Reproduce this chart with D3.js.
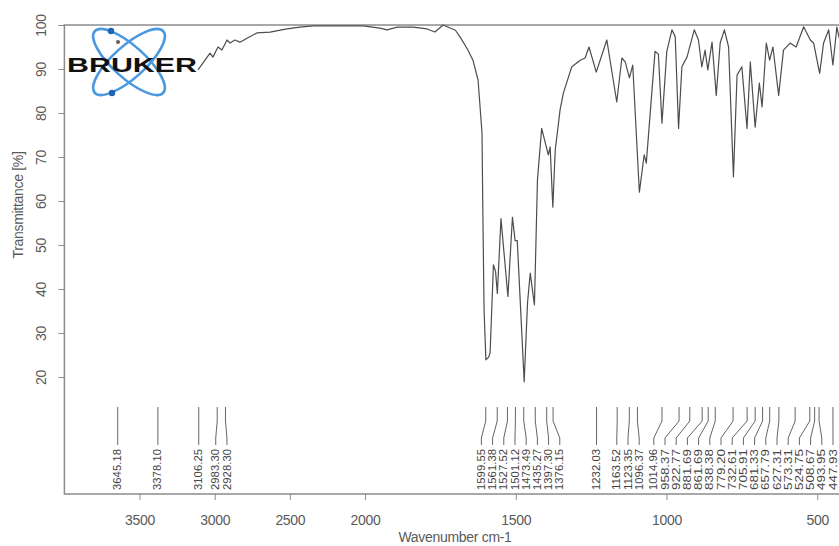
<!DOCTYPE html>
<html>
<head>
<meta charset="utf-8">
<script src="https://cdn.jsdelivr.net/npm/d3@7"></script>
<style>
  html, body { margin: 0; padding: 0; background: #fff; }
  svg { display: block; }
  text { font-family: "Liberation Sans", Arial, sans-serif; }
</style>
</head>
<body>
<svg id="chart" width="839" height="546"></svg>
<script>
// ---- data ----
const wavenumbers = [3111, 3031, 3012, 2978, 2952, 2918, 2898, 2865, 2832, 2785, 2719, 2632, 2519, 2433, 2346,
  2014, 1950, 1927, 1893, 1840, 1794, 1768, 1741, 1700, 1685, 1660, 1642, 1625, 1612, 1608, 1605, 1599, 1590, 1585,
  1574, 1567, 1561, 1549, 1526, 1511, 1502, 1495, 1472, 1461, 1452, 1438, 1428, 1414, 1392, 1386, 1377, 1369, 1353,
  1342, 1325, 1314, 1286, 1270, 1257, 1233, 1198, 1165, 1148, 1137, 1123, 1112, 1090, 1074, 1067, 1038, 1027, 1015,
  999, 982, 971, 960, 949, 932, 908, 894, 883, 872, 863, 849, 835, 822, 808, 794, 778, 766, 750, 733, 722, 706, 692,
  683, 669, 658, 647, 628, 612, 590, 570, 545, 523, 512, 492, 479, 462, 448, 435, 427];
const transmittance = [89.8, 93.6, 92.7, 95.0, 94.3, 96.6, 95.9, 96.6, 96.1, 97.0, 98.2, 98.4, 99.1, 99.5, 99.8,
  99.8, 99.3, 98.9, 99.5, 99.5, 99.1, 98.4, 100, 98.8, 97.3, 94.5, 92.0, 87.5, 75.5, 51, 35, 23.9, 24.5, 25.5,
  45.5, 44, 39, 56, 38.3, 56.3, 51, 51, 18.9, 36.8, 43.6, 36.4, 64.8, 76.5, 70.5, 72.3, 58.6, 71.6, 80.7,
  84.5, 88.2, 90.5, 92.0, 92.5, 95.0, 89.3, 96.6, 82.5, 92.5, 91.6, 88.0, 90.9, 62.0, 70.5, 68.6, 94.0, 93.4, 77.7,
  94.0, 98.9, 97.3, 76.5, 90.5, 92.7, 98.9, 96.6, 90.5, 94.3, 89.8, 96.1, 84.0, 95.9, 98.9, 95.0, 65.5, 88.6, 90.5, 76.5, 91.6, 76.8, 86.8,
  81.4, 95.9, 92.0, 95.0, 84.0, 94.3, 95.9, 95.0, 99.6, 96.6, 95.9, 89.0, 95.9, 98.9, 90.9, 99.5, 97.0];

const peakGroups = [
  [3645.18, 3378.10, 3106.25, 2983.30, 2928.30],
  [1599.55, 1561.38, 1527.52, 1501.12, 1473.49, 1435.27, 1397.30, 1376.15],
  [1232.03],
  [1163.52, 1123.35, 1096.37],
  [1014.96, 958.37, 922.77, 881.69, 861.69, 838.38, 779.20, 732.61, 705.91, 681.33, 657.79, 627.31,
   573.31, 524.75, 508.67, 493.95, 447.93]
];

const xTicks = [3500, 3000, 2500, 2000, 1500, 1000, 500];
const yTicks = [20, 30, 40, 50, 60, 70, 80, 90, 100];

(function () {
const svg = d3.select("#chart");
const pLeft = 64.4, pRight = 847.4, pTop = 25, pBottom = 494;

// Bruker-style scale: region above 2000 cm-1 compressed by a factor of 2
const x = d3.scaleLinear().domain([4000, 2000, 400]).range([pLeft, 365, pRight]);
const y = d3.scaleLinear().domain([100, -6.6]).range([pTop, pBottom]);

svg.append("rect").attr("width", 839).attr("height", 546).attr("fill", "#fff");

const frameColor = "#8c8c8c";
const textColor = "#5a5a5a";

svg.append("path")
  .attr("d", `M${pRight},${pTop}H${pLeft}V${pBottom}H${pRight}`)
  .attr("fill", "none").attr("stroke", frameColor).attr("stroke-width", 1.5);

// x axis
const xAxis = d3.axisBottom(x).tickValues(xTicks).tickSize(6).tickPadding(15).tickFormat(d3.format("d"));
const gx = svg.append("g").attr("transform", `translate(0,${pBottom})`).call(xAxis);
gx.select(".domain").remove();
gx.selectAll("line").attr("stroke", frameColor);
gx.selectAll("text").attr("fill", textColor).attr("font-size", 14).attr("letter-spacing", -0.3);

// y axis
const yAxis = d3.axisLeft(y).tickValues(yTicks).tickSize(6).tickPadding(0).tickFormat(d3.format("d"));
const gy = svg.append("g").attr("transform", `translate(${pLeft},0)`).call(yAxis);
gy.select(".domain").remove();
gy.selectAll("line").attr("stroke", frameColor);
gy.selectAll("text")
  .attr("fill", textColor).attr("font-size", 14).attr("letter-spacing", -0.3)
  .attr("x", null)
  .attr("text-anchor", "middle")
  .attr("transform", "translate(-23,0) rotate(-90)")
  .attr("dy", "0.35em");

// axis titles
svg.append("text").attr("x", 455).attr("y", 542).attr("text-anchor", "middle")
  .attr("font-size", 14).attr("letter-spacing", -0.3).attr("fill", textColor).text("Wavenumber cm-1");
svg.append("text").attr("transform", "translate(23,205) rotate(-90)").attr("text-anchor", "middle")
  .attr("font-size", 14).attr("letter-spacing", -0.3).attr("fill", textColor).text("Transmittance [%]");

// spectrum
const pts = wavenumbers.map((w, i) => [w, transmittance[i]]);
svg.append("path")
  .datum(pts)
  .attr("fill", "none").attr("stroke", "#4d4d4d").attr("stroke-width", 1.2)
  .attr("stroke-linejoin", "round")
  .attr("d", d3.line().x(d => x(d[0])).y(d => y(d[1])));

// peak labels with leader lines
const spacing = 11.2;
const maxLabelX = 833;
function layoutGroup(xs) {
  let clusters = xs.map(v => ({ items: [v], center: v }));
  const clampC = c => {
    const end = c.center + (c.items.length - 1) * spacing / 2;
    if (end > maxLabelX) c.center -= end - maxLabelX;
    return c;
  };
  clusters.forEach(clampC);
  let changed = true;
  while (changed) {
    changed = false;
    for (let i = 0; i < clusters.length - 1; i++) {
      const a = clusters[i], b = clusters[i + 1];
      const aEnd = a.center + (a.items.length - 1) * spacing / 2;
      const bStart = b.center - (b.items.length - 1) * spacing / 2;
      if (bStart - aEnd < spacing - 0.01) {
        const items = a.items.concat(b.items);
        clusters.splice(i, 2, clampC({ items, center: d3.mean(items) }));
        changed = true;
        break;
      }
    }
  }
  const out = [];
  clusters.forEach(c => {
    const start = c.center - (c.items.length - 1) * spacing / 2;
    c.items.forEach((_, k) => out.push(start + k * spacing));
  });
  return out;
}
const allPeaks = peakGroups.flat();
const peakX = allPeaks.map(p => x(p));
const labelX = layoutGroup(peakX);

const lg = svg.append("g");
allPeaks.forEach((p, i) => {
  const px = peakX[i], lx = labelX[i];
  lg.append("path")
    .attr("d", `M${px},407V421L${lx},438V445`)
    .attr("fill", "none").attr("stroke", "#555").attr("stroke-width", 0.9);
  lg.append("text")
    .attr("transform", `translate(${lx + 3.6},490) rotate(-90)`)
    .attr("font-size", 10).attr("fill", "#444")
    .attr("textLength", 41).attr("lengthAdjust", "spacingAndGlyphs")
    .text(p.toFixed(2));
});

// Bruker logo
const logo = svg.append("g");
[-42, 42].forEach(a => {
  logo.append("ellipse")
    .attr("cx", 0).attr("cy", 0).attr("rx", 46).attr("ry", 16)
    .attr("transform", `translate(129,62) rotate(${a})`)
    .attr("fill", "none").attr("stroke", "#4a98e0").attr("stroke-width", 2.6);
});
[[111, 31], [112, 93], [118, 42]].forEach(([cx, cy], i) => {
  logo.append("circle").attr("cx", cx).attr("cy", cy).attr("r", i === 2 ? 2 : 3.2)
    .attr("fill", i === 2 ? "#6b5a4a" : "#1f63b5");
});
logo.append("text").attr("x", 67).attr("y", 72)
  .attr("font-family", "'DejaVu Sans', sans-serif").attr("font-weight", "bold")
  .attr("font-size", 21).attr("fill", "#111")
  .attr("textLength", 130).attr("lengthAdjust", "spacingAndGlyphs")
  .text("BRUKER");
})();
</script>
</body>
</html>
